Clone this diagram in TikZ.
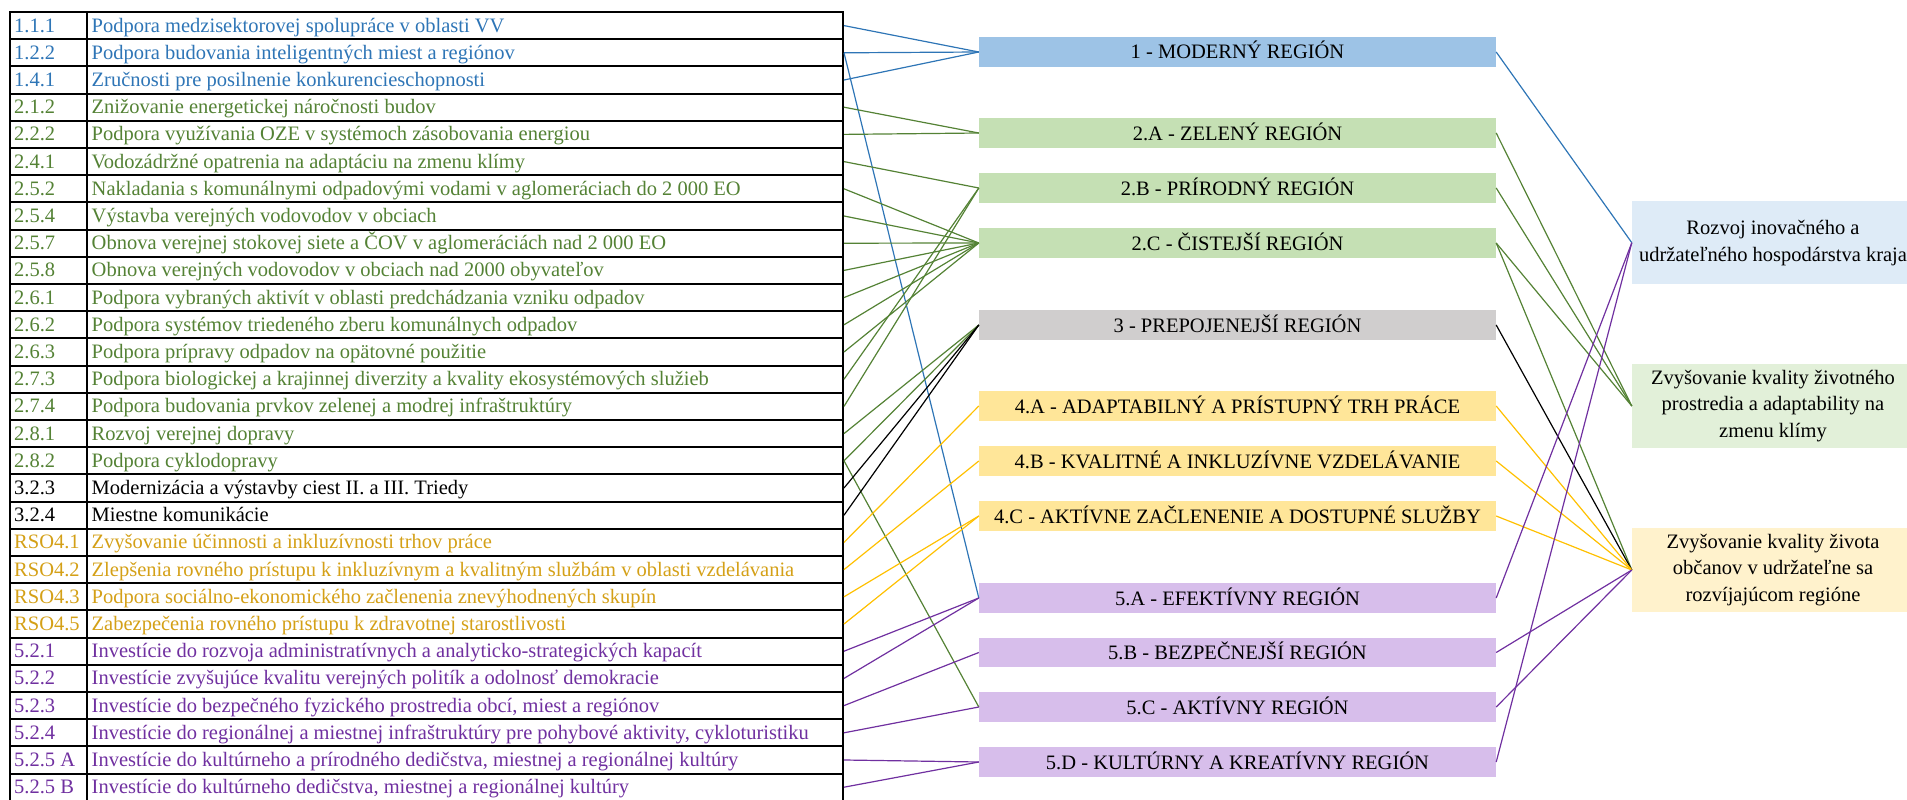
\documentclass[tikz,border=0pt]{standalone}
\usepackage{fontspec}
\setmainfont{Liberation Serif}
\definecolor{cblue}{HTML}{2E75B6}
\definecolor{cgreen}{HTML}{548235}
\definecolor{cgold}{RGB}{212,160,23}
\definecolor{lyellow}{HTML}{FFC000}
\definecolor{cpurple}{HTML}{7030A0}
\definecolor{fblue}{HTML}{9DC3E6}
\definecolor{fgreen}{HTML}{C5E0B4}
\definecolor{fgray}{HTML}{D0CECE}
\definecolor{fyellow}{HTML}{FFE699}
\definecolor{fpurple}{RGB}{215,190,235}
\definecolor{rblue}{HTML}{DEEBF7}
\definecolor{rgreen}{HTML}{E2F0D9}
\definecolor{ryellow}{HTML}{FFF2CC}
\begin{document}
\begin{tikzpicture}[x=1pt,y=-1pt,
  font=\fontsize{20.5}{24}\selectfont,
  rowcell/.style={draw=black,line width=2pt,minimum width=833pt,minimum height=27.2pt,inner sep=0pt},
  celltext/.style={anchor=base west,inner sep=0pt},
  midbox/.style={rectangle,minimum width=517pt,minimum height=29.5pt,inner sep=0pt,text height=14pt,text depth=0pt},
  rbox/.style={rectangle,minimum width=282pt,minimum height=83.5pt,inner sep=0pt,align=center,font=\fontsize{20.5}{26.7}\selectfont},
  conn/.style={line width=1.2pt}]
\useasboundingbox (0,0) rectangle (1907,800);
% table rows
\foreach \i/\code/\txt/\col in {
 1/1.1.1/{Podpora medzisektorovej spolupráce v oblasti VV}/cblue,
 2/1.2.2/{Podpora budovania inteligentných miest a regiónov}/cblue,
 3/1.4.1/{Zručnosti pre posilnenie konkurencieschopnosti}/cblue,
 4/2.1.2/{Znižovanie energetickej náročnosti budov}/cgreen,
 5/2.2.2/{Podpora využívania OZE v systémoch zásobovania energiou}/cgreen,
 6/2.4.1/{Vodozádržné opatrenia na adaptáciu na zmenu klímy}/cgreen,
 7/2.5.2/{Nakladania s komunálnymi odpadovými vodami v aglomeráciach do 2 000 EO}/cgreen,
 8/2.5.4/{Výstavba verejných vodovodov v obciach}/cgreen,
 9/2.5.7/{Obnova verejnej stokovej siete a ČOV v aglomeráciách nad 2 000 EO}/cgreen,
 10/2.5.8/{Obnova verejných vodovodov v obciach nad 2000 obyvateľov}/cgreen,
 11/2.6.1/{Podpora vybraných aktivít v oblasti predchádzania vzniku odpadov}/cgreen,
 12/2.6.2/{Podpora systémov triedeného zberu komunálnych odpadov}/cgreen,
 13/2.6.3/{Podpora prípravy odpadov na opätovné použitie}/cgreen,
 14/2.7.3/{Podpora biologickej a krajinnej diverzity a kvality ekosystémových služieb}/cgreen,
 15/2.7.4/{Podpora budovania prvkov zelenej a modrej infraštruktúry}/cgreen,
 16/2.8.1/{Rozvoj verejnej dopravy}/cgreen,
 17/2.8.2/{Podpora cyklodopravy}/cgreen,
 18/3.2.3/{Modernizácia a výstavby ciest II. a III. Triedy}/black,
 19/3.2.4/{Miestne komunikácie}/black,
 20/RSO4.1/{Zvyšovanie účinnosti a inkluzívnosti trhov práce}/cgold,
 21/RSO4.2/{Zlepšenia rovného prístupu k inkluzívnym a kvalitným službám v oblasti vzdelávania}/cgold,
 22/RSO4.3/{Podpora sociálno-ekonomického začlenenia znevýhodnených skupín}/cgold,
 23/RSO4.5/{Zabezpečenia rovného prístupu k zdravotnej starostlivosti}/cgold,
 24/5.2.1/{Investície do rozvoja administratívnych a analyticko-strategických kapacít}/cpurple,
 25/5.2.2/{Investície zvyšujúce kvalitu verejných politík a odolnosť demokracie}/cpurple,
 26/5.2.3/{Investície do bezpečného fyzického prostredia obcí, miest a regiónov}/cpurple,
 27/5.2.4/{Investície do regionálnej a miestnej infraštruktúry pre pohybové aktivity, cykloturistiku}/cpurple,
 28/5.2.5 A/{Investície do kultúrneho a prírodného dedičstva, miestnej a regionálnej kultúry}/cpurple,
 29/5.2.5 B/{Investície do kultúrneho dedičstva, miestnej a regionálnej kultúry}/cpurple}{
  \node[rowcell] (r\i) at (426.5,{12+(\i-0.5)*27.2}) {};
  \node[celltext,text=\col] (c\i) at (14,{12+(\i-0.5)*27.2+6.5}) {\code};
  \node[celltext,text=\col] (d\i) at (91.5,{12+(\i-0.5)*27.2+6.5}) {\txt};
}
\draw[line width=2pt] (87,12) -- (87,801);
% middle boxes
\node[midbox,fill=fblue]   (m1)  at (1237.5,52)    {1 - MODERNÝ REGIÓN};
\node[midbox,fill=fgreen]  (m2A) at (1237.5,133)   {2.A - ZELENÝ REGIÓN};
\node[midbox,fill=fgreen]  (m2B) at (1237.5,188)   {2.B - PRÍRODNÝ REGIÓN};
\node[midbox,fill=fgreen]  (m2C) at (1237.5,243)   {2.C - ČISTEJŠÍ REGIÓN};
\node[midbox,fill=fgray]   (m3)  at (1237.5,325)   {3 - PREPOJENEJŠÍ REGIÓN};
\node[midbox,fill=fyellow] (m4A) at (1237.5,406)   {4.A - ADAPTABILNÝ A PRÍSTUPNÝ TRH PRÁCE};
\node[midbox,fill=fyellow] (m4B) at (1237.5,461)   {4.B - KVALITNÉ A INKLUZÍVNE VZDELÁVANIE};
\node[midbox,fill=fyellow] (m4C) at (1237.5,516)   {4.C - AKTÍVNE ZAČLENENIE A DOSTUPNÉ SLUŽBY};
\node[midbox,fill=fpurple] (m5A) at (1237.5,598)   {5.A - EFEKTÍVNY REGIÓN};
\node[midbox,fill=fpurple] (m5B) at (1237.5,652.5) {5.B - BEZPEČNEJŠÍ REGIÓN};
\node[midbox,fill=fpurple] (m5C) at (1237.5,707)   {5.C - AKTÍVNY REGIÓN};
\node[midbox,fill=fpurple] (m5D) at (1237.5,762)   {5.D - KULTÚRNY A KREATÍVNY REGIÓN};
% right boxes
\node[rbox,fill=rblue]   (R1) at (1773,242.7) {Rozvoj inovačného a\\udržateľného hospodárstva kraja};
\node[rbox,fill=rgreen]  (R2) at (1773,406)   {Zvyšovanie kvality životného\\prostredia a adaptability na\\zmenu klímy};
\node[rbox,fill=ryellow] (R3) at (1773,570)   {Zvyšovanie kvality života\\občanov v udržateľne sa\\rozvíjajúcom regióne};
% left connectors
\foreach \a/\b/\c in {r1/m1/cblue, r2/m1/cblue, r3/m1/cblue, r2/m5A/cblue,
  r4/m2A/cgreen, r5/m2A/cgreen, r6/m2B/cgreen, r14/m2B/cgreen, r15/m2B/cgreen,
  r7/m2C/cgreen, r8/m2C/cgreen, r9/m2C/cgreen, r10/m2C/cgreen, r11/m2C/cgreen, r12/m2C/cgreen, r13/m2C/cgreen,
  r16/m3/cgreen, r17/m3/cgreen, r17/m5C/cgreen, r18/m3/black, r19/m3/black,
  r20/m4A/lyellow, r21/m4B/lyellow, r22/m4C/lyellow, r23/m4C/lyellow,
  r24/m5A/cpurple, r25/m5A/cpurple, r26/m5B/cpurple, r27/m5C/cpurple, r28/m5D/cpurple, r29/m5D/cpurple}{
  \draw[conn,draw=\c] (\a.east) -- (\b.west);
}
% right connectors
\foreach \a/\b/\c in {m1/R1/cblue, m2A/R2/cgreen, m2B/R2/cgreen, m2C/R2/cgreen, m2C/R3/cgreen,
  m3/R3/black, m4A/R3/lyellow, m4B/R3/lyellow, m4C/R3/lyellow,
  m5A/R1/cpurple, m5D/R1/cpurple, m5B/R3/cpurple, m5C/R3/cpurple}{
  \draw[conn,draw=\c] (\a.east) -- (\b.west);
}
\end{tikzpicture}
\end{document}
